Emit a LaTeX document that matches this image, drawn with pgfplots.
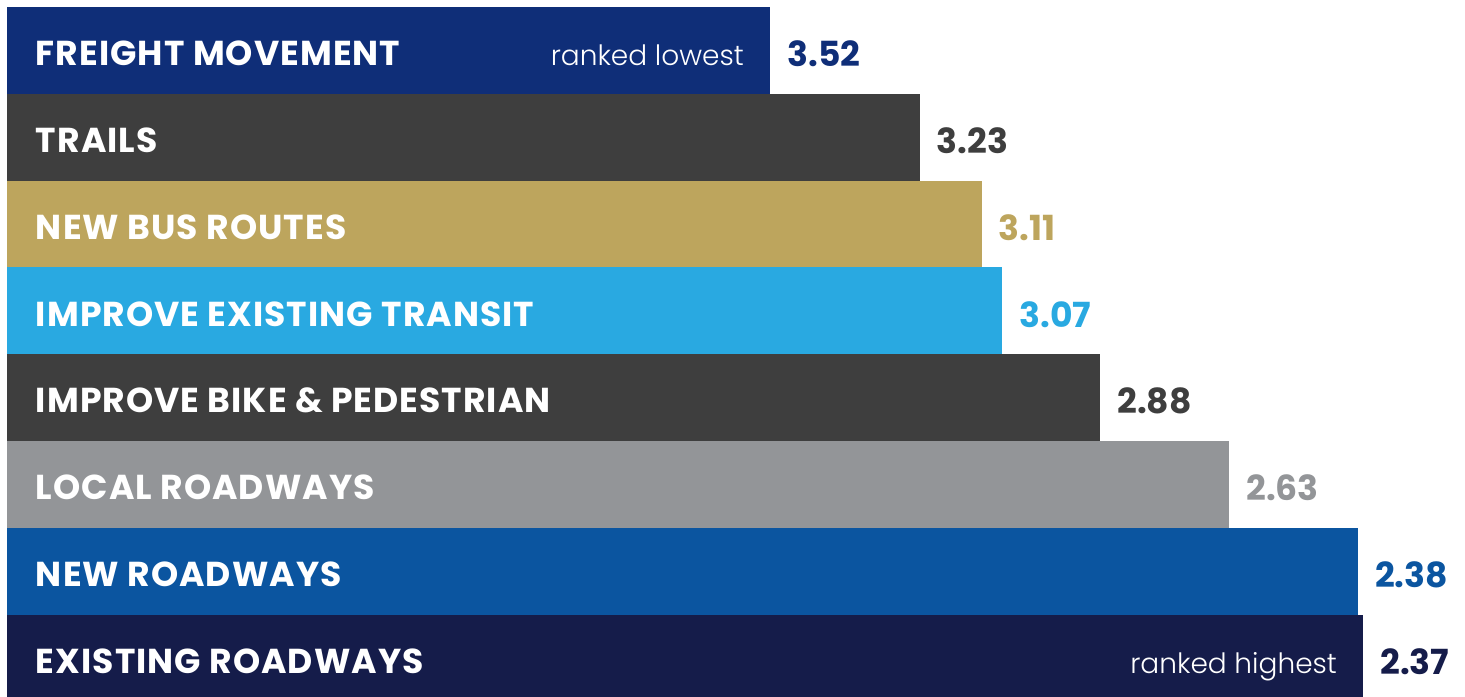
\documentclass[border=0pt]{standalone}
\usepackage{pgfplots}
\usepackage{pgfplotstable}
\pgfplotsset{compat=1.18}
\usepackage{fontspec}
\setmainfont{Poppins}[BoldFont=* Bold]
\newfontfamily\capsfont{Poppins Bold}[LetterSpace=3]
\newfontfamily\lightfont{Poppins Light}
\definecolor{c0}{HTML}{0F2E78}
\definecolor{c1}{HTML}{3E3E3E}
\definecolor{c2}{HTML}{BDA55D}
\definecolor{c3}{HTML}{29A9E1}
\definecolor{c4}{HTML}{3E3E3E}
\definecolor{c5}{HTML}{939598}
\definecolor{c6}{HTML}{0B55A0}
\definecolor{c7}{HTML}{151C4A}
% rank score (1 = best, 5 = worst); bar length = 5 - score
\pgfplotstableread{
i v
0 3.52
}\tA
\pgfplotstableread{
i v
1 3.23
}\tB
\pgfplotstableread{
i v
2 3.11
}\tC
\pgfplotstableread{
i v
3 3.07
}\tD
\pgfplotstableread{
i v
4 2.88
}\tE
\pgfplotstableread{
i v
5 2.63
}\tF
\pgfplotstableread{
i v
6 2.38
}\tG
\pgfplotstableread{
i v
7 2.37
}\tH
\begin{document}
\begin{tikzpicture}
\begin{axis}[
  name=ax,
  scale only axis, width=732.5pt, height=348pt,
  xmin=-0.01357, xmax=2.8272,
  ymin=-0.5806, ymax=7.4323, y dir=reverse,
  hide axis, clip=false,
  xbar, bar width=43.6pt, bar shift=0pt,
  point meta=explicit symbolic,
  nodes near coords,
  every node near coord/.append style={anchor=base west, xshift=5pt, yshift=-8pt, font=\bfseries\fontsize{17.3}{17.3}\selectfont},
]
\addplot[fill=c0, draw=none, every node near coord/.append style={text=c0}] table[x expr=5-\thisrow{v}, y=i, meta=v]{\tA};
\addplot[fill=c1, draw=none, every node near coord/.append style={text=c1}] table[x expr=5-\thisrow{v}, y=i, meta=v]{\tB};
\addplot[fill=c2, draw=none, every node near coord/.append style={text=c2}] table[x expr=5-\thisrow{v}, y=i, meta=v]{\tC};
\addplot[fill=c3, draw=none, every node near coord/.append style={text=c3}] table[x expr=5-\thisrow{v}, y=i, meta=v]{\tD};
\addplot[fill=c4, draw=none, every node near coord/.append style={text=c4}] table[x expr=5-\thisrow{v}, y=i, meta=v]{\tE};
\addplot[fill=c5, draw=none, every node near coord/.append style={text=c5}] table[x expr=5-\thisrow{v}, y=i, meta=v]{\tF};
\addplot[fill=c6, draw=none, every node near coord/.append style={text=c6}] table[x expr=5-\thisrow{v}, y=i, meta=v]{\tG};
\addplot[fill=c7, draw=none, every node near coord/.append style={text=c7}] table[x expr=5-\thisrow{v}, y=i, meta=v]{\tH};
\tikzset{cat/.style={anchor=base west, xshift=14.3pt, yshift=-7.5pt, text=white, font=\capsfont\fontsize{17.3}{17.3}\selectfont, inner sep=0pt}}
\node[cat] at (axis cs:0,0) {FREIGHT MOVEMENT};
\node[cat] at (axis cs:0,1) {TRAILS};
\node[cat] at (axis cs:0,2) {NEW BUS ROUTES};
\node[cat] at (axis cs:0,3) {IMPROVE EXISTING TRANSIT};
\node[cat] at (axis cs:0,4) {IMPROVE BIKE \& PEDESTRIAN};
\node[cat] at (axis cs:0,5) {LOCAL ROADWAYS};
\node[cat] at (axis cs:0,6) {NEW ROADWAYS};
\node[cat] at (axis cs:0,7) {EXISTING ROADWAYS};
\tikzset{rk/.style={anchor=base east, xshift=-13pt, yshift=-7.5pt, text=white, font=\lightfont\fontsize{14}{14}\selectfont, inner sep=0pt}}
\node[rk] at (axis cs:1.48,0) {ranked lowest};
\node[rk] at (axis cs:2.63,7) {ranked highest};
\end{axis}
\pgfresetboundingbox
\path[use as bounding box] (ax.south west) rectangle (ax.north east);
\end{tikzpicture}
\end{document}
